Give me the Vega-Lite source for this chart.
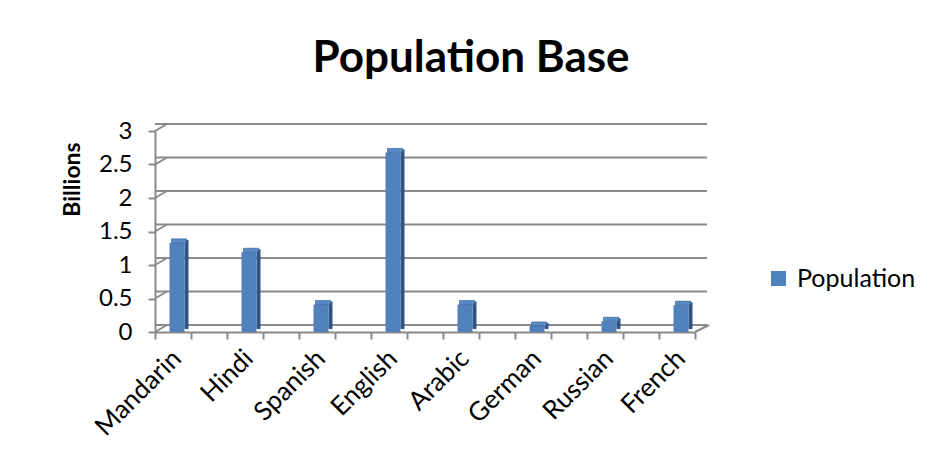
{
  "$schema": "https://vega.github.io/schema/vega-lite/v6.json",
  "autosize": {"type": "none"},
  "padding": {"left": 155, "top": 131, "right": 246, "bottom": 140},
  "width": 540,
  "height": 201,
  "background": "white",
  "title": {
    "text": "Population Base",
    "font": "Lato",
    "fontSize": 44,
    "fontWeight": "bold",
    "color": "black",
    "anchor": "middle",
    "dx": 46,
    "offset": 38
  },
  "datasets": {
    "languages": [
      {"language": "Mandarin", "value": 1.33},
      {"language": "Hindi", "value": 1.19},
      {"language": "Spanish", "value": 0.41},
      {"language": "English", "value": 2.68},
      {"language": "Arabic", "value": 0.41},
      {"language": "German", "value": 0.09},
      {"language": "Russian", "value": 0.16},
      {"language": "French", "value": 0.4}
    ],
    "grid": [
      {"value": 0}, {"value": 0.5}, {"value": 1}, {"value": 1.5},
      {"value": 2}, {"value": 2.5}, {"value": 3}
    ]
  },
  "layer": [
    {
      "data": {"name": "grid"},
      "mark": {"type": "rule", "color": "#8a8a8a", "strokeWidth": 2, "xOffset": 12, "x2Offset": 14, "yOffset": -7},
      "encoding": {
        "y": {"field": "value", "type": "quantitative", "title": "Billions", "scale": {"domain": [0, 3]}}
      }
    },
    {
      "data": {"name": "grid"},
      "mark": {"type": "rule", "color": "#8a8a8a", "strokeWidth": 2, "xOffset": -18, "x2Offset": -6, "y2Offset": -7},
      "encoding": {
        "x": {"datum": "Mandarin", "type": "nominal", "axis": null,
              "scale": {"domain": ["Mandarin", "Hindi", "Spanish", "English", "Arabic", "German", "Russian", "French"]}},
        "x2": {"datum": "Mandarin"},
        "y": {"field": "value", "type": "quantitative", "title": "Billions", "scale": {"domain": [0, 3]}},
        "y2": {"field": "value"}
      }
    },
    {
      "data": {"name": "grid"},
      "transform": [{"filter": "datum.value == 0"}],
      "mark": {"type": "rule", "color": "#8a8a8a", "strokeWidth": 2, "xOffset": 18, "x2Offset": 32, "y2Offset": -7},
      "encoding": {
        "x": {"datum": "French", "type": "nominal", "axis": null,
              "scale": {"domain": ["Mandarin", "Hindi", "Spanish", "English", "Arabic", "German", "Russian", "French"]}},
        "x2": {"datum": "French"},
        "y": {"field": "value", "type": "quantitative", "title": "Billions", "scale": {"domain": [0, 3]}},
        "y2": {"field": "value"}
      }
    },
    {
      "data": {"name": "languages"},
      "mark": {"type": "bar", "width": 4, "color": "#2f5382", "xOffset": 13.5, "yOffset": -3, "y2Offset": -2},
      "encoding": {
        "x": {
          "field": "language", "type": "nominal", "title": null,
          "scale": {"domain": ["Mandarin", "Hindi", "Spanish", "English", "Arabic", "German", "Russian", "French"]},
          "axis": {"orient": "bottom", "bandPosition": 1, "labels": false, "domain": false, "ticks": true, "grid": false}
        },
        "y": {"field": "value", "type": "quantitative", "title": "Billions", "scale": {"domain": [0, 3]}}
      }
    },
    {
      "data": {"name": "languages"},
      "mark": {"type": "bar", "width": 15, "color": "#4f81bd", "xOffset": 4},
      "encoding": {
        "x": {
          "field": "language", "type": "nominal", "title": null,
          "scale": {"domain": ["Mandarin", "Hindi", "Spanish", "English", "Arabic", "German", "Russian", "French"]},
          "axis": {"orient": "bottom", "bandPosition": 0, "labels": false, "domain": true, "ticks": true, "grid": false}
        },
        "y": {"field": "value", "type": "quantitative", "title": "Billions", "scale": {"domain": [0, 3]}},
        "color": {
          "datum": "Population",
          "type": "nominal",
          "scale": {"range": ["#4f81bd"]},
          "legend": {
            "title": null,
            "orient": "none",
            "legendX": 611,
            "legendY": 135,
            "symbolType": "square",
            "symbolSize": 225,
            "symbolStrokeWidth": 0,
            "labelFont": "Lato",
            "labelFontSize": 25,
            "labelColor": "black",
            "labelOffset": 6
          }
        }
      }
    },
    {
      "data": {"name": "languages"},
      "mark": {"type": "bar", "width": 15, "color": "#5a8ac6", "stroke": "#3b639a", "strokeWidth": 0.7, "xOffset": 6, "yOffset": -4, "y2Offset": 0},
      "encoding": {
        "x": {
          "field": "language", "type": "nominal", "title": null,
          "scale": {"domain": ["Mandarin", "Hindi", "Spanish", "English", "Arabic", "German", "Russian", "French"]},
          "axis": {"orient": "bottom", "bandPosition": 0.5, "labels": true, "domain": false, "ticks": false, "grid": false,
                   "labelAngle": -45, "labelAlign": "right", "labelBaseline": "middle", "labelOffset": 4, "labelPadding": 22,
                   "labelFontSize": 26}
        },
        "y": {"field": "value", "type": "quantitative", "title": "Billions", "scale": {"domain": [0, 3]}},
        "y2": {"field": "value"}
      }
    }
  ],
  "resolve": {"axis": {"x": "independent"}},
  "config": {
    "view": {"stroke": null},
    "scale": {"bandPaddingInner": 0.5, "bandPaddingOuter": 0},
    "axis": {
      "labelFont": "Lato",
      "labelFontSize": 24,
      "labelColor": "black",
      "domainColor": "#8a8a8a",
      "domainWidth": 2,
      "tickColor": "#8a8a8a",
      "tickWidth": 2,
      "tickSize": 7
    },
    "axisY": {
      "grid": false,
      "tickCount": 6,
      "format": "~g",
      "labelPadding": 16,
      "titleFont": "Lato",
      "titleFontSize": 23,
      "titleFontWeight": "bold",
      "titleColor": "black",
      "titleAngle": -90,
      "titleX": -83,
      "titleY": 48,
      "titleAlign": "center",
      "titleBaseline": "middle"
    }
  }
}
